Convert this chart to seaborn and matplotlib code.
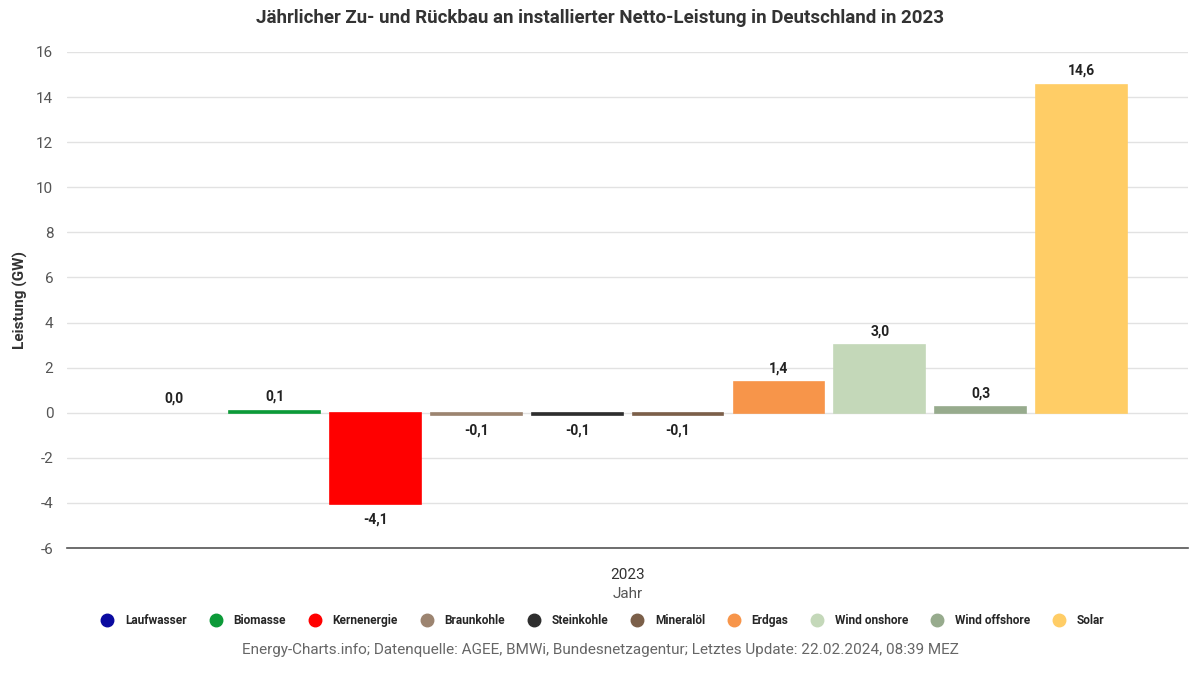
import pandas as pd
import seaborn as sns
import matplotlib.pyplot as plt
from matplotlib.lines import Line2D

# Zu- und Rückbau 2023 in GW
sources = ['Laufwasser', 'Biomasse', 'Kernenergie', 'Braunkohle', 'Steinkohle',
           'Mineralöl', 'Erdgas', 'Wind onshore', 'Wind offshore', 'Solar']
values = [0.0, 0.1, -4.06, -0.1, -0.1, -0.1, 1.36, 3.0, 0.25, 14.55]
value_labels = ['0,0', '0,1', '-4,1', '-0,1', '-0,1', '-0,1', '1,4', '3,0', '0,3', '14,6']
colors = ['#0a0aa0', '#0c9a38', '#ff0000', '#9c8470', '#2e2e2e',
          '#7b5f49', '#f7954a', '#c4d8b9', '#97ab8d', '#ffcd66']
year = '2023'

df = pd.DataFrame({'Jahr': [year] * len(sources), 'Quelle': sources, 'Leistung': values})

sns.set_theme(style='white')
plt.rcParams['font.family'] = ['Roboto', 'DejaVu Sans']
plt.rcParams['axes.unicode_minus'] = False

fig = plt.figure(figsize=(12, 6.75), dpi=100)
ax = fig.add_axes([0.056, 0.188, 0.934, 0.735])

sns.barplot(data=df, x='Jahr', y='Leistung', hue='Quelle', hue_order=sources,
            palette=colors, width=0.9, gap=0.1, saturation=1, legend=False, ax=ax)

# dünne Balken etwas sichtbarer machen (Rand in Balkenfarbe)
for cont, v in zip(ax.containers, values):
    for p in cont:
        p.set_edgecolor(p.get_facecolor())
        p.set_linewidth(1.2 if v != 0 else 0)

for cont, lab, v in zip(ax.containers, value_labels, values):
    ax.bar_label(cont, labels=[lab], padding=5 if v >= 0 else 6,
                 fontsize=10, fontweight='bold', color='#222222')

ax.set_ylim(-6, 16)
ax.set_yticks(range(-6, 17, 2))
ax.set_xlim(-0.5, 0.5)
ax.yaxis.grid(True, color='#e2e2e2', linewidth=1)
ax.set_axisbelow(True)
for s in ['top', 'right', 'left']:
    ax.spines[s].set_visible(False)
ax.spines['bottom'].set_color('#555555')
ax.spines['bottom'].set_linewidth(1.2)
ax.tick_params(axis='y', length=0, labelsize=11, labelcolor='#555555', pad=10)
ax.tick_params(axis='x', length=0, labelsize=11, labelcolor='#333333', pad=14)
ax.set_xlabel('Jahr', fontsize=11, color='#555555', labelpad=4)
ax.set_ylabel('Leistung (GW)', fontsize=11, fontweight='bold', color='#333333', labelpad=6)

fig.suptitle('Jährlicher Zu- und Rückbau an installierter Netto-Leistung in Deutschland in 2023',
             y=0.987, fontsize=13.5, fontweight='bold', color='#333333')

handles = [Line2D([0], [0], marker='o', linestyle='', markersize=9,
                  markerfacecolor=c, markeredgecolor=c) for c in colors]
fig.legend(handles, sources, loc='center', bbox_to_anchor=(0.5, 0.081), ncol=10,
           frameon=False, handletextpad=0.5, columnspacing=1.4,
           prop={'weight': 'bold', 'size': 8.6})

fig.text(0.5, 0.037, 'Energy-Charts.info; Datenquelle: AGEE, BMWi, Bundesnetzagentur; '
         'Letztes Update: 22.02.2024, 08:39 MEZ',
         ha='center', va='center', fontsize=11, color='#666666')

fig.savefig('out.png', dpi=100)
